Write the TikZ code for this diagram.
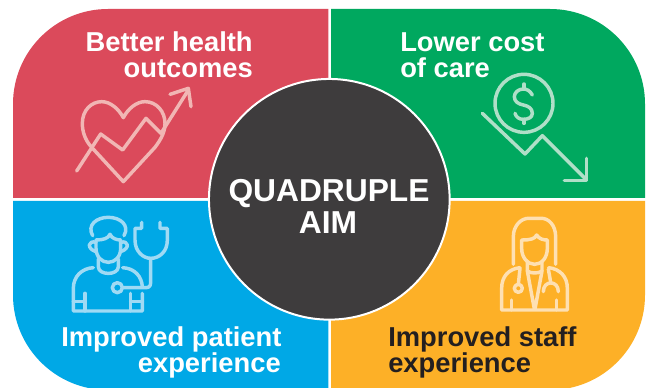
\documentclass[tikz,border=0pt]{standalone}
\usepackage{fontspec}
\setmainfont{Liberation Sans}
\definecolor{qred}{HTML}{DB4A5B}
\definecolor{qgreen}{HTML}{00A85F}
\definecolor{qblue}{HTML}{00A8E6}
\definecolor{qorange}{HTML}{FDB027}
\definecolor{qdark}{HTML}{3E3C3D}
\definecolor{qink}{HTML}{231F20}
\definecolor{ired}{HTML}{F1B6B4}
\definecolor{igreen}{HTML}{B0DFC8}
\definecolor{iblue}{HTML}{A0DAF4}
\definecolor{iorange}{HTML}{FEE0B2}
\tikzset{
  lbl/.style={font=\bfseries\fontsize{20.5pt}{24pt}\selectfont,text=white,inner sep=0pt,anchor=base west},
  lblr/.style={lbl,anchor=base east},
  icon/.style={line width=2.6pt,line cap=round,line join=round},
  zoomed/.style={x=.25pt,y=-.25pt}
}
\begin{document}
\begin{tikzpicture}[x=.75pt,y=-.75pt]
\useasboundingbox (0,0) rectangle (649,388);
\clip (0,0) rectangle (649,388);
\fill[white] (0,0) rectangle (649,388);
% quadrants
\fill[qred] (328.3,9) -- (108,9) arc[start angle=90,end angle=180,x radius=95,y radius=-95] -- (13,197.8) -- (328.3,197.8) -- cycle;
\fill[qgreen] (331,9) -- (550,9) arc[start angle=90,end angle=0,x radius=95,y radius=-95] -- (645,197.8) -- (331,197.8) -- cycle;
\fill[qblue] (328.3,390) -- (108,390) arc[start angle=270,end angle=180,x radius=95,y radius=-95] -- (13,200.8) -- (328.3,200.8) -- cycle;
\fill[qorange] (331,390) -- (550,390) arc[start angle=270,end angle=360,x radius=95,y radius=-95] -- (645,200.8) -- (331,200.8) -- cycle;
% heart icon
\begin{scope}[shift={(60,70)},zoomed,icon,draw=ired]
\draw (190,335) -- (95,232) .. controls (75,210) and (67,185) .. (67,160) .. controls (67,120) and (95,95) .. (125,95) .. controls (150,95) and (175,115) .. (190,143) .. controls (205,115) and (230,95) .. (255,95) .. controls (290,95) and (315,125) .. (315,160) .. controls (315,185) and (305,205) .. (285,232) -- cycle;
\draw (50,303) -- (122,192) -- (188,240) -- (258,145) -- (303,190) -- (385,60);
\draw (330,73) -- (385,55) -- (393,110);
\end{scope}
% dollar icon
\begin{scope}[shift={(470,70)},zoomed,icon,draw=igreen]
\draw (162,100) circle[radius=87];
\draw (187,75) .. controls (180,62) and (170,57) .. (160,57) .. controls (145,57) and (133,68) .. (133,80) .. controls (133,95) and (145,102) .. (160,105) .. controls (175,108) and (187,115) .. (187,130) .. controls (187,142) and (175,148) .. (160,148) .. controls (148,148) and (138,142) .. (135,130);
\draw (162,42) -- (162,57) (162,148) -- (162,160);
\draw (37,130) -- (165,252) -- (217,197) -- (350,330);
\draw (350,265) -- (350,332) -- (283,332);
\end{scope}
% patient icon
\begin{scope}[shift={(60,205)},zoomed,icon,draw=iblue]
\draw (98,92) .. controls (80,60) and (110,37) .. (145,37) .. controls (180,37) and (210,60) .. (192,92);
\draw (108,105) .. controls (130,105) and (145,100) .. (150,88) .. controls (155,100) and (170,105) .. (182,105) -- (182,130) .. controls (182,155) and (165,172) .. (145,172) .. controls (125,172) and (108,155) .. (108,130) -- cycle;
\draw (108,112) .. controls (85,105) and (78,130) .. (108,140);
\draw (182,112) .. controls (205,105) and (212,130) .. (182,140);
\draw (115,162) -- (115,185) .. controls (115,212) and (175,212) .. (175,185) -- (175,162);
\draw (100,188) .. controls (65,190) and (40,215) .. (40,250) -- (40,318) -- (247,318) -- (247,265);
\draw (188,188) .. controls (225,190) and (245,215) .. (247,245);
\draw (75,265) -- (75,318) (40,290) -- (75,290) (212,265) -- (212,318) (212,290) -- (247,290);
\draw (172,248) circle[radius=15];
\draw (187,248) -- (258,248) .. controls (268,248) and (272,242) .. (272,232) -- (272,160);
\draw (245,52) -- (245,70) -- (225,70) -- (225,105) .. controls (225,140) and (250,160) .. (272,160) .. controls (298,160) and (322,140) .. (322,105) -- (322,70) -- (300,70) -- (300,52);
\end{scope}
% doctor icon
\begin{scope}[shift={(490,205)},zoomed,icon,draw=iorange]
\draw (70,178) -- (70,95) .. controls (70,60) and (95,40) .. (115,40) -- (155,40) .. controls (175,40) and (197,60) .. (197,95) -- (197,178);
\draw (95,105) .. controls (120,105) and (135,102) .. (140,90) .. controls (147,102) and (160,105) .. (172,105) -- (172,130) .. controls (172,158) and (155,178) .. (134,178) .. controls (113,178) and (95,158) .. (95,130) -- cycle;
\draw (112,168) -- (112,198) -- (133,312) (156,168) -- (156,198) -- (135,312);
\draw (112,198) .. controls (122,206) and (146,206) .. (156,198);
\draw (90,188) .. controls (55,192) and (35,215) .. (35,250) -- (35,315) -- (232,315) -- (232,250) .. controls (232,215) and (210,192) .. (176,188);
\draw (65,285) -- (65,315) (200,285) -- (200,315);
\draw (90,190) -- (85,238);
\draw (85,250) circle[radius=12];
\draw (175,192) -- (182,232);
\draw (160,260) .. controls (160,225) and (205,225) .. (205,260);
\end{scope}
% centre circle
\node[circle,fill=qdark,draw=white,line width=1.5pt,minimum size=180.5pt,inner sep=0pt] (hub) at (329.3,199.3) {};
% labels
\node[lblr] (a1) at (253,51.5) {Better health};
\node[lblr] (a2) at (253,77.5) {outcomes};
\node[lbl] (b1) at (400,51.5) {Lower cost};
\node[lbl] (b2) at (400,77.5) {of care};
\node[lbl] (c1) at (61,346) {Improved patient};
\node[lblr] (c2) at (281,372) {experience};
\node[lbl,text=qink] (d1) at (388,346) {Improved staff};
\node[lbl,text=qink] (d2) at (388,372) {experience};
\node[lbl,anchor=base,font=\bfseries\fontsize{23.8pt}{24pt}\selectfont] (h1) at (329,201.5) {QUADRUPLE};
\node[lbl,anchor=base,font=\bfseries\fontsize{23.8pt}{24pt}\selectfont] (h2) at (328,233.5) {AIM};
\end{tikzpicture}
\end{document}
